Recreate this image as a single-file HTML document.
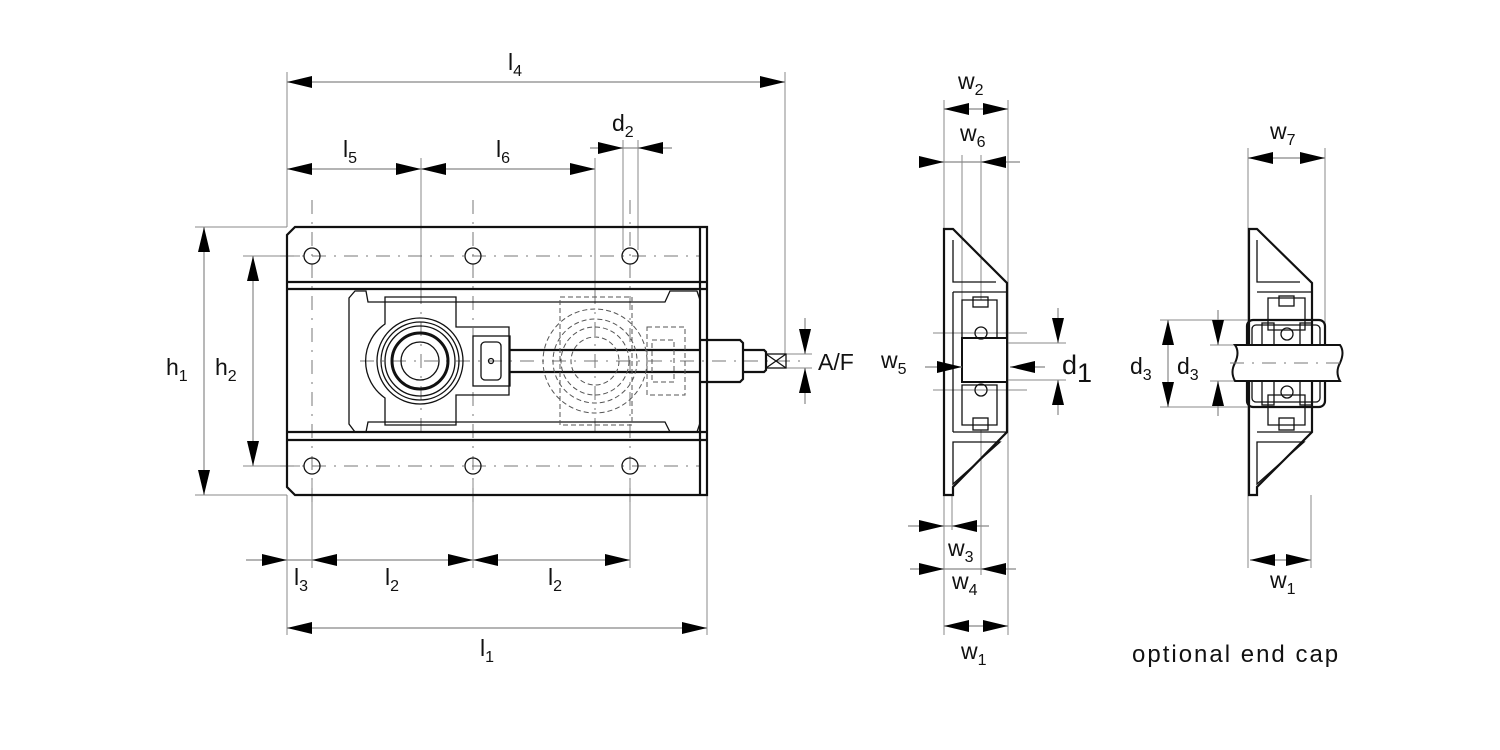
<!DOCTYPE html>
<html><head><meta charset="utf-8"><style>
html,body{margin:0;padding:0;background:#fff}
svg{display:block}
text{font-family:"Liberation Sans",sans-serif;fill:#111}
.t{font-size:23px}
.s{font-size:16px}
.k{stroke:#111;stroke-width:2.2;fill:none}
.k1{stroke:#111;stroke-width:1.3;fill:none}
.g{stroke:#888;stroke-width:1;fill:none}
.d{stroke:#777;stroke-width:1;fill:none;stroke-dasharray:14 8 2 8}
.h{stroke:#555;stroke-width:1;fill:none;stroke-dasharray:5 3}
.dm{stroke:#888;stroke-width:1.2;fill:none}
</style></head><body>
<svg width="1500" height="750" viewBox="0 0 1500 750" xmlns="http://www.w3.org/2000/svg">
<defs>
<marker id="a" viewBox="0 0 25 12" markerWidth="25" markerHeight="12" refX="25" refY="6" orient="auto-start-reverse" markerUnits="userSpaceOnUse">
<path d="M0,0 L25,6 L0,12 z" fill="#000"/></marker>
</defs>

<g class="g">
<line x1="287" y1="72" x2="287" y2="227"/>
<line x1="785" y1="72" x2="785" y2="355"/>
<line x1="421" y1="158" x2="421" y2="300"/>
<line x1="595" y1="158" x2="595" y2="300"/>
<line x1="623" y1="140" x2="623" y2="250"/>
<line x1="638" y1="140" x2="638" y2="250"/>
<line x1="195" y1="227" x2="287" y2="227"/>
<line x1="195" y1="495" x2="287" y2="495"/>
<line x1="243" y1="256" x2="300" y2="256"/>
<line x1="243" y1="466" x2="300" y2="466"/>
<line x1="287" y1="495" x2="287" y2="635"/>
<line x1="707" y1="440" x2="707" y2="635"/>
<line x1="312" y1="478" x2="312" y2="568"/>
<line x1="473" y1="478" x2="473" y2="568"/>
<line x1="630" y1="478" x2="630" y2="568"/>
<line x1="786" y1="354" x2="812" y2="354"/>
<line x1="786" y1="368" x2="812" y2="368"/>
</g>
<g class="d">
<line x1="312" y1="200" x2="312" y2="510"/>
<line x1="473" y1="200" x2="473" y2="510"/>
<line x1="630" y1="200" x2="630" y2="510"/>
<line x1="595" y1="290" x2="595" y2="432"/>
<line x1="421" y1="290" x2="421" y2="432"/>
<line x1="280" y1="256" x2="700" y2="256"/>
<line x1="280" y1="466" x2="700" y2="466"/>
<line x1="360" y1="361" x2="800" y2="361"/>
</g>
<path class="k" d="M295,227 H707 V495 H295 L287,487 V235 Z"/>
<line class="k" x1="700" y1="227" x2="700" y2="495"/>
<line class="k" x1="287" y1="282" x2="707" y2="282"/>
<line class="k" x1="287" y1="289" x2="707" y2="289"/>
<line class="k" x1="287" y1="432" x2="707" y2="432"/>
<line class="k" x1="287" y1="440" x2="707" y2="440"/>
<g class="k1">
<circle cx="312" cy="256" r="8"/><circle cx="473" cy="256" r="8"/><circle cx="630" cy="256" r="8"/>
<circle cx="312" cy="466" r="8"/><circle cx="473" cy="466" r="8"/><circle cx="630" cy="466" r="8"/>
</g>
<path class="k1" d="M355,291 H366 L368,302 H665 L670,291 H697 L700,300 V423 L697,432 H670 L665,422 H368 L366,432 H355 L349,424 V298 Z"/>
<path class="k1" d="M385,297 H456 V327 H509 V395 H456 V425 H385 V398 A45,45 0 0 1 385,324 Z"/>
<g class="k1">
<circle cx="420" cy="361" r="43"/>
<circle cx="420" cy="361" r="39"/>
<circle cx="420" cy="361" r="35"/>
</g>
<circle cx="420" cy="361" r="28" stroke="#111" stroke-width="3" fill="none"/>
<circle cx="420" cy="361" r="19" class="k1"/>
<rect class="k1" x="473" y="336" width="37" height="50"/>
<rect class="k1" x="481" y="342" width="20" height="38" rx="4"/>
<circle class="k1" cx="491" cy="361" r="2.5"/>
<line class="k" x1="510" y1="350" x2="700" y2="350"/>
<line class="k" x1="510" y1="372" x2="700" y2="372"/>
<g class="h">
<rect x="560" y="297" width="72" height="128"/>
<circle cx="595" cy="361" r="52"/>
<circle cx="595" cy="361" r="42"/>
<circle cx="595" cy="361" r="34"/>
<circle cx="595" cy="361" r="24"/>
<rect x="647" y="327" width="38" height="68"/>
<rect x="652" y="340" width="22" height="42"/>
</g>
<path class="k" d="M700,340 H740 L743,343 V379 L740,382 H700"/>
<path class="k" d="M743,350 H764 L766,352 V370 L764,372 H743"/>
<rect class="k1" x="766" y="354" width="20" height="14"/>
<path class="k1" d="M766,354 L786,368 M786,354 L766,368"/>

<g class="dm">
<line x1="287" y1="82" x2="785" y2="82" marker-start="url(#a)" marker-end="url(#a)"/>
<line x1="287" y1="169" x2="421" y2="169" marker-start="url(#a)" marker-end="url(#a)"/>
<line x1="421" y1="169" x2="595" y2="169" marker-start="url(#a)" marker-end="url(#a)"/>
<line x1="590" y1="148" x2="623" y2="148" marker-end="url(#a)"/>
<line x1="672" y1="148" x2="638" y2="148" marker-end="url(#a)"/>
<line x1="623" y1="148" x2="638" y2="148"/>
<line x1="204" y1="227" x2="204" y2="495" marker-start="url(#a)" marker-end="url(#a)"/>
<line x1="253" y1="256" x2="253" y2="466" marker-start="url(#a)" marker-end="url(#a)"/>
<line x1="246" y1="560" x2="287" y2="560" marker-end="url(#a)"/>
<line x1="287" y1="560" x2="312" y2="560"/>
<line x1="312" y1="560" x2="473" y2="560" marker-start="url(#a)" marker-end="url(#a)"/>
<line x1="473" y1="560" x2="630" y2="560" marker-start="url(#a)" marker-end="url(#a)"/>
<line x1="287" y1="628" x2="707" y2="628" marker-start="url(#a)" marker-end="url(#a)"/>
<line x1="805" y1="318" x2="805" y2="354" marker-end="url(#a)"/>
<line x1="805" y1="404" x2="805" y2="368" marker-end="url(#a)"/>
</g>
<text class="t" x="508" y="70">l<tspan class="s" dy="6">4</tspan></text>
<text class="t" x="343" y="157">l<tspan class="s" dy="6">5</tspan></text>
<text class="t" x="496" y="157">l<tspan class="s" dy="6">6</tspan></text>
<text class="t" x="612" y="131">d<tspan class="s" dy="6">2</tspan></text>
<text class="t" x="166" y="375">h<tspan class="s" dy="6">1</tspan></text>
<text class="t" x="215" y="375">h<tspan class="s" dy="6">2</tspan></text>
<text class="t" x="294" y="585">l<tspan class="s" dy="6">3</tspan></text>
<text class="t" x="385" y="585">l<tspan class="s" dy="6">2</tspan></text>
<text class="t" x="548" y="585">l<tspan class="s" dy="6">2</tspan></text>
<text class="t" x="480" y="656">l<tspan class="s" dy="6">1</tspan></text>
<text class="t" x="818" y="370">A/F</text>

<g class="g">
<line x1="944" y1="100" x2="944" y2="635"/>
<line x1="1008" y1="100" x2="1008" y2="635"/>
<line x1="962" y1="155" x2="962" y2="300"/>
<line x1="981" y1="155" x2="981" y2="300"/>
<line x1="952" y1="495" x2="952" y2="530"/>
<line x1="981" y1="430" x2="981" y2="575"/>
<line x1="1008" y1="343" x2="1066" y2="343"/>
<line x1="1008" y1="380" x2="1066" y2="380"/>
<line x1="933" y1="333" x2="1027" y2="333"/>
<line x1="933" y1="390" x2="1027" y2="390"/>
</g>
<path class="k" d="M944,229 H953 L1007,283 V432 L953,487 V495 H944 Z"/>
<path class="k1" d="M953,240 V282 H996 M953,442 V484 L1000,442 Z M953,292 H1007 M953,432 H1007 M953,292 V432"/>
<path class="k1" d="M962,300 H997 V338 H962 Z M962,385 H997 V425 H962 Z"/>
<rect class="k1" x="973" y="297" width="15" height="10"/>
<rect class="k1" x="973" y="418" width="15" height="12"/>
<rect x="962" y="338" width="45" height="44" stroke="#111" stroke-width="2" fill="#fff"/>
<circle class="k1" cx="981" cy="333" r="6"/>
<circle class="k1" cx="981" cy="390" r="6"/>
<g class="dm">
<line x1="944" y1="109" x2="1008" y2="109" marker-start="url(#a)" marker-end="url(#a)"/>
<line x1="926" y1="162" x2="944" y2="162" marker-end="url(#a)"/>
<line x1="944" y1="162" x2="981" y2="162"/>
<line x1="1020" y1="162" x2="981" y2="162" marker-end="url(#a)"/>
<line x1="908" y1="526" x2="944" y2="526" marker-end="url(#a)"/>
<line x1="944" y1="526" x2="952" y2="526"/>
<line x1="989" y1="526" x2="952" y2="526" marker-end="url(#a)"/>
<line x1="910" y1="569" x2="944" y2="569" marker-end="url(#a)"/>
<line x1="944" y1="569" x2="981" y2="569"/>
<line x1="1016" y1="569" x2="981" y2="569" marker-end="url(#a)"/>
<line x1="944" y1="626" x2="1008" y2="626" marker-start="url(#a)" marker-end="url(#a)"/>
<line x1="925" y1="367" x2="962" y2="367" marker-end="url(#a)"/>
<line x1="1045" y1="367" x2="1010" y2="367" marker-end="url(#a)"/>
<line x1="1058" y1="308" x2="1058" y2="343" marker-end="url(#a)"/>
<line x1="1058" y1="415" x2="1058" y2="380" marker-end="url(#a)"/>
</g>
<text class="t" x="958" y="89">w<tspan class="s" dy="6">2</tspan></text>
<text class="t" x="960" y="141">w<tspan class="s" dy="6">6</tspan></text>
<text class="t" x="948" y="556">w<tspan class="s" dy="6">3</tspan></text>
<text class="t" x="952" y="589">w<tspan class="s" dy="6">4</tspan></text>
<text class="t" x="961" y="659">w<tspan class="s" dy="6">1</tspan></text>
<text class="t" x="881" y="368">w<tspan class="s" dy="6">5</tspan></text>
<text class="t" x="1062" y="374" style="font-size:27px">d<tspan dy="8" style="font-size:27px">1</tspan></text>

<g class="g">
<line x1="1248" y1="148" x2="1248" y2="568"/>
<line x1="1325" y1="148" x2="1325" y2="330"/>
<line x1="1311" y1="495" x2="1311" y2="568"/>
<line x1="1160" y1="320" x2="1255" y2="320"/>
<line x1="1160" y1="407" x2="1255" y2="407"/>
<line x1="1210" y1="345" x2="1240" y2="345"/>
<line x1="1210" y1="381" x2="1240" y2="381"/>
</g>
<path class="k" d="M1249,229 H1257 L1312,283 V432 L1257,487 V495 H1249 Z"/>
<path class="k1" d="M1257,240 V282 H1300 M1257,442 V484 L1304,442 Z M1257,292 H1312 M1257,432 H1312"/>
<path class="k1" d="M1268,298 H1305 V330 H1268 Z M1268,395 H1305 V425 H1268 Z"/>
<rect class="k1" x="1279" y="296" width="15" height="10"/>
<rect class="k1" x="1279" y="418" width="15" height="12"/>
<rect class="k" x="1247" y="320" width="78" height="87" rx="6"/>
<rect class="k1" x="1252" y="325" width="68" height="77" rx="4"/>
<rect class="k1" x="1262" y="323" width="12" height="82"/>
<rect class="k1" x="1300" y="323" width="12" height="82"/>
<circle class="k1" cx="1287" cy="334" r="6"/>
<circle class="k1" cx="1287" cy="392" r="6"/>
<path d="M1235,345 H1340 Q1345,352 1340,363 Q1335,372 1340,381 H1235 Q1230,372 1235,363 Q1240,352 1235,345 Z" stroke="#111" stroke-width="2" fill="#fff"/>
<line class="d" x1="1230" y1="363" x2="1345" y2="363"/>
<g class="dm">
<line x1="1248" y1="158" x2="1325" y2="158" marker-start="url(#a)" marker-end="url(#a)"/>
<line x1="1250" y1="560" x2="1311" y2="560" marker-start="url(#a)" marker-end="url(#a)"/>
<line x1="1168" y1="320" x2="1168" y2="407" marker-start="url(#a)" marker-end="url(#a)"/>
<line x1="1218" y1="310" x2="1218" y2="345" marker-end="url(#a)"/>
<line x1="1218" y1="416" x2="1218" y2="381" marker-end="url(#a)"/>
</g>
<text class="t" x="1270" y="139">w<tspan class="s" dy="6">7</tspan></text>
<text class="t" x="1270" y="588">w<tspan class="s" dy="6">1</tspan></text>
<text class="t" x="1130" y="374">d<tspan class="s" dy="6">3</tspan></text>
<text class="t" x="1177" y="374">d<tspan class="s" dy="6">3</tspan></text>
<text class="t" x="1132" y="662" style="font-size:24px;letter-spacing:2px">optional end cap</text>
</svg>
</body></html>
